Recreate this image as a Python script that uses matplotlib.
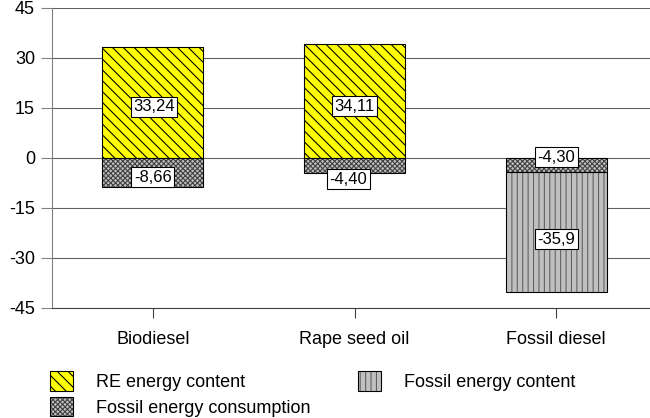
import matplotlib
matplotlib.use('Agg')
import matplotlib.pyplot as plt
from matplotlib.patches import Patch

# ---------------- data ----------------
categories = ['Biodiesel', 'Rape seed oil', 'Fossil diesel']
re_energy_content = [33.24, 34.11, 0.0]
fossil_energy_consumption = [-8.66, -4.40, -4.30]
fossil_energy_content = [0.0, 0.0, -35.9]
re_labels = ['33,24', '34,11', '']
consumption_labels = ['-8,66', '-4,40', '-4,30']
content_labels = ['', '', '-35,9']
y_ticks = [-45, -30, -15, 0, 15, 30, 45]
series_names = ['RE energy content', 'Fossil energy consumption', 'Fossil energy content']

# ---------------- style ----------------
DPI = 130
plt.rcParams['font.family'] = ['Liberation Sans', 'DejaVu Sans']
plt.rcParams['hatch.linewidth'] = 0.6

FS = 10          # tick / legend font size (pt)
LABEL_FS = 9.2   # value label font size (pt)
EDGE_LW = 0.6
W = 0.5

fig = plt.figure(figsize=(650 / DPI, 418 / DPI), dpi=DPI)
ax = fig.add_axes([52 / 650, 1 - 308 / 418, 605 / 650, 300 / 418])

x = list(range(len(categories)))

styles = {
    're': dict(face='#ffff00', hatch='\\' * 4, hcolor='black'),
    'cons': dict(face='#c0c0c0', hatch='x' * 9, hcolor='#404040'),
    'content': dict(face='#c0c0c0', hatch='||||', hcolor='#606060'),
}


def draw(values, bottoms, st):
    idx = [i for i, v in enumerate(values) if v != 0]
    xs = [x[i] for i in idx]
    hs = [values[i] for i in idx]
    bs = [bottoms[i] for i in idx]
    ax.bar(xs, hs, W, bottom=bs, color=st['face'], edgecolor=st['hcolor'],
           hatch=st['hatch'], linewidth=0, zorder=2)
    ax.bar(xs, hs, W, bottom=bs, fill=False, edgecolor='black',
           linewidth=EDGE_LW, zorder=3)


zeros = [0.0] * len(categories)
draw(re_energy_content, zeros, styles['re'])
draw(fossil_energy_consumption, zeros, styles['cons'])
draw(fossil_energy_content, fossil_energy_consumption, styles['content'])

# value labels (pixel offsets are purely for placement styling)
label_offsets = {
    're': [(1, -4), (0, -5), (0, 0)],
    'cons': [(0, -5), (-6, -14), (0, 8)],
    'content': [(0, 0), (0, 0), (0, -7)],
}


def labels(values, bottoms, texts, offs):
    for i, (v, b, t) in enumerate(zip(values, bottoms, texts)):
        if not t:
            continue
        ax.annotate(t, (x[i], b + v / 2), xytext=offs[i], textcoords='offset pixels',
                    ha='center', va='center', fontsize=LABEL_FS, zorder=6,
                    bbox=dict(boxstyle='square,pad=0.15', fc='white', ec='black', lw=EDGE_LW))


labels(re_energy_content, zeros, re_labels, label_offsets['re'])
labels(fossil_energy_consumption, zeros, consumption_labels, label_offsets['cons'])
labels(fossil_energy_content, fossil_energy_consumption, content_labels, label_offsets['content'])

# axes
ax.set_xlim(-0.5, 2.5)
ax.set_ylim(-45, 45)
ax.set_yticks(y_ticks)
ax.set_yticklabels([str(t) for t in y_ticks])
ax.set_xticks(x)
ax.set_xticklabels(categories)
ax.set_axisbelow(True)
ax.yaxis.grid(True, color='#606060', linewidth=0.6)
for s in ['top', 'right']:
    ax.spines[s].set_visible(False)
ax.spines['left'].set_color('#808080')
ax.spines['left'].set_linewidth(0.6)
ax.spines['bottom'].set_color('#404040')
ax.spines['bottom'].set_linewidth(0.6)
ax.tick_params(axis='y', length=6.1, width=0.6, color='#808080', pad=3.3, labelsize=FS)
ax.tick_params(axis='x', length=5.5, width=0.6, color='#404040', pad=7, labelsize=FS)

# legend
handles = []
for key in ['re', 'cons', 'content']:
    st = styles[key]
    handles.append((Patch(facecolor=st['face'], edgecolor=st['hcolor'], hatch=st['hatch'], linewidth=0),
                    Patch(fill=False, edgecolor='black', linewidth=EDGE_LW)))
fig.legend(handles, series_names, ncol=2, loc='upper left',
           bbox_to_anchor=(50 / 650, 1 - 371 / 418), frameon=False, fontsize=FS,
           handlelength=1.28, handleheight=1.3, handletextpad=1.28,
           columnspacing=2.6, labelspacing=0.32, borderpad=0, borderaxespad=0)

fig.savefig('out.png', dpi=DPI)
